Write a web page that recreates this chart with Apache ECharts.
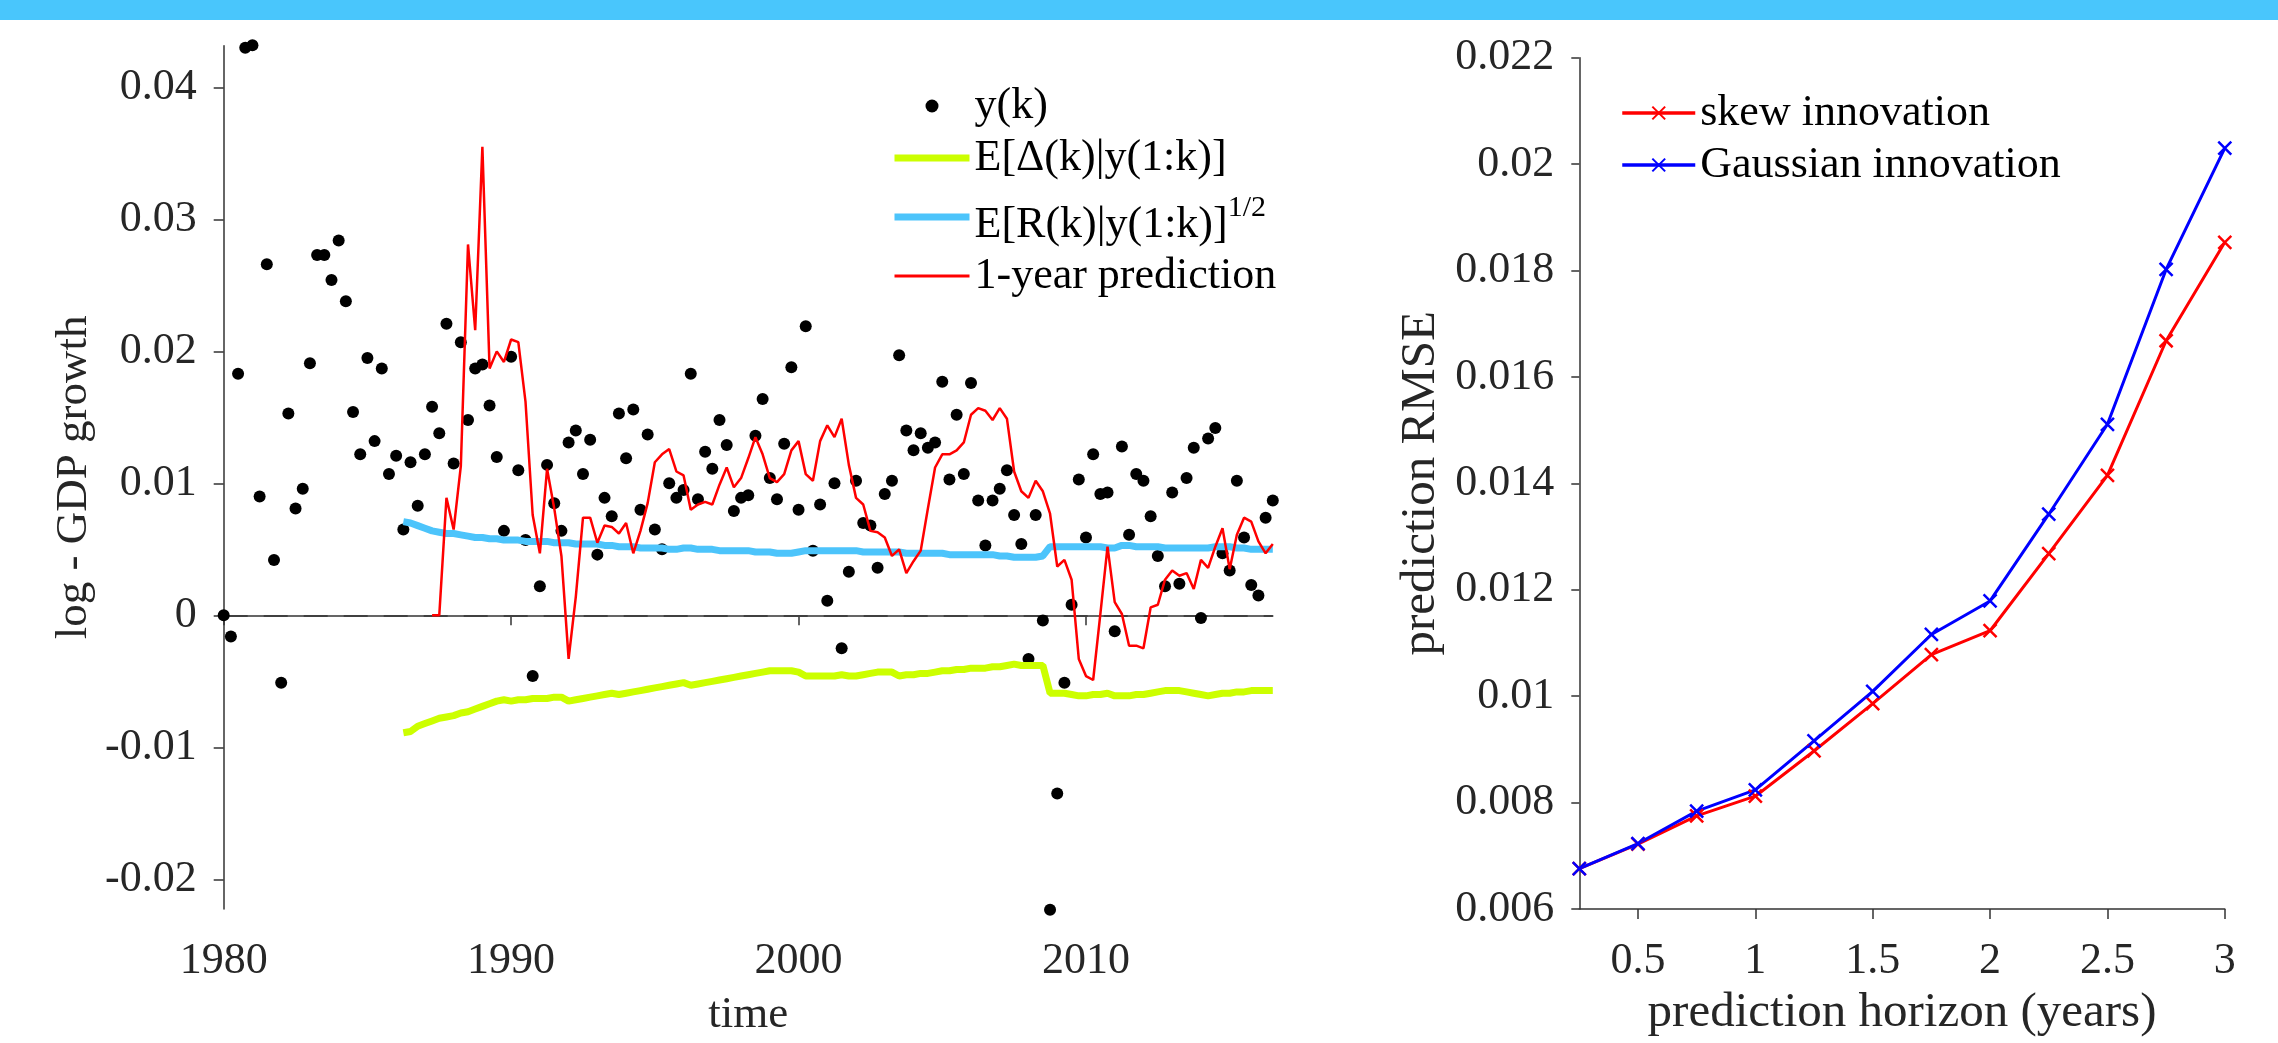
<!DOCTYPE html>
<html>
<head>
	<meta charset="utf-8">
	<title>GDP growth prediction</title>
	<script src="https://cdn.jsdelivr.net/npm/echarts@6/dist/echarts.min.js"></script>
	<style>
		html, body {
			margin: 0;
			padding: 0;
			background: #fff;
		}

		#chart {
			width: 2278px;
			height: 1043px;
		}
	</style>
</head>
<body>
	<div id="chart"></div>
<script type="text/javascript">
	// quarterly data, first sample at 1980.0
	var startYear = 1980;
	var stepYear = 0.25;

	// y(k): log GDP growth per quarter
	var yk = [
		0, -0.0016, 0.0183, 0.0430, 0.0432, 0.0090, 0.0266, 0.0042, -0.0051, 0.0153,
		0.0081, 0.0096, 0.0191, 0.0273, 0.0273, 0.0254, 0.0284, 0.0238, 0.0154, 0.0122,
		0.0195, 0.0132, 0.0187, 0.0107, 0.0121, 0.0065, 0.0116, 0.0083, 0.0122, 0.0158,
		0.0138, 0.0221, 0.0115, 0.0207, 0.0148, 0.0187, 0.0190, 0.0159, 0.0120, 0.0064,
		0.0196, 0.0110, 0.0057, -0.0046, 0.0022, 0.0114, 0.0085, 0.0064, 0.0131, 0.0140,
		0.0107, 0.0133, 0.0046, 0.0089, 0.0075, 0.0153, 0.0119, 0.0156, 0.0080, 0.0137,
		0.0065, 0.0050, 0.0100, 0.0089, 0.0095, 0.0183, 0.0088, 0.0124, 0.0111, 0.0148,
		0.0129, 0.0079, 0.0089, 0.0091, 0.0136, 0.0164, 0.0104, 0.0088, 0.0130, 0.0188,
		0.0080, 0.0219, 0.0049, 0.0084, 0.0011, 0.0100, -0.0025, 0.0033, 0.0102, 0.0070,
		0.0068, 0.0036, 0.0092, 0.0102, 0.0197, 0.0140, 0.0125, 0.0138, 0.0127, 0.0131,
		0.0177, 0.0103, 0.0152, 0.0107, 0.0176, 0.0087, 0.0053, 0.0087, 0.0096, 0.0110,
		0.0076, 0.0054, -0.0033, 0.0076, -0.0004, -0.0223, -0.0135, -0.0051, 0.0008, 0.0103,
		0.0059, 0.0122, 0.0092, 0.0093, -0.0012, 0.0128, 0.0061, 0.0107, 0.0102, 0.0075,
		0.0045, 0.0022, 0.0093, 0.0024, 0.0104, 0.0127, -0.0002, 0.0134, 0.0142, 0.0047,
		0.0034, 0.0102, 0.0059, 0.0023, 0.0015, 0.0074, 0.0087
	];

	// filter outputs start at sample 25 (1986.25)
	var filterStart = 25;
	var deltaMean = [
		-0.0089, -0.0088, -0.0084, -0.0082, -0.0080, -0.0078, -0.0077, -0.0076, -0.0074, -0.0073,
		-0.0071, -0.0069, -0.0067, -0.0065, -0.0064, -0.0065, -0.0064, -0.0064, -0.0063, -0.0063,
		-0.0063, -0.0062, -0.0062, -0.0065, -0.0064, -0.0063, -0.0062, -0.0061, -0.0060, -0.0059,
		-0.0060, -0.0059, -0.0058, -0.0057, -0.0056, -0.0055, -0.0054, -0.0053, -0.0052, -0.0051,
		-0.0053, -0.0052, -0.0051, -0.0050, -0.0049, -0.0048, -0.0047, -0.0046, -0.0045, -0.0044,
		-0.0043, -0.0042, -0.0042, -0.0042, -0.0042, -0.0043, -0.0046, -0.0046, -0.0046, -0.0046,
		-0.0046, -0.0045, -0.0046, -0.0046, -0.0045, -0.0044, -0.0043, -0.0043, -0.0043, -0.0046,
		-0.0045, -0.0045, -0.0044, -0.0044, -0.0043, -0.0042, -0.0042, -0.0041, -0.0041, -0.0040,
		-0.0040, -0.0040, -0.0039, -0.0039, -0.0038, -0.0037, -0.0038, -0.0038, -0.0038, -0.0038,
		-0.0059, -0.0059, -0.0059, -0.0060, -0.0061, -0.0061, -0.0060, -0.0060, -0.0059, -0.0061,
		-0.0061, -0.0061, -0.0060, -0.0060, -0.0059, -0.0058, -0.0057, -0.0057, -0.0057, -0.0058,
		-0.0059, -0.0060, -0.0061, -0.0060, -0.0059, -0.0059, -0.0058, -0.0058, -0.0057, -0.0057,
		-0.0057, -0.0057
	];
	var rootR = [
		0.0071, 0.0070, 0.0068, 0.0066, 0.0064, 0.0063, 0.0062, 0.0062, 0.0061, 0.0060,
		0.0059, 0.0059, 0.0058, 0.0058, 0.0057, 0.0057, 0.0057, 0.0056, 0.0056, 0.0056,
		0.0056, 0.0055, 0.0055, 0.0055, 0.0054, 0.0054, 0.0054, 0.0054, 0.0053, 0.0053,
		0.0052, 0.0052, 0.0052, 0.0051, 0.0051, 0.0051, 0.0051, 0.0050, 0.0050, 0.0051,
		0.0051, 0.0050, 0.0050, 0.0050, 0.0049, 0.0049, 0.0049, 0.0049, 0.0049, 0.0048,
		0.0048, 0.0048, 0.0047, 0.0047, 0.0047, 0.0048, 0.0049, 0.0049, 0.0049, 0.0049,
		0.0049, 0.0049, 0.0049, 0.0049, 0.0048, 0.0048, 0.0048, 0.0048, 0.0048, 0.0048,
		0.0047, 0.0047, 0.0047, 0.0047, 0.0047, 0.0047, 0.0046, 0.0046, 0.0046, 0.0046,
		0.0046, 0.0046, 0.0046, 0.0045, 0.0045, 0.0044, 0.0044, 0.0044, 0.0044, 0.0045,
		0.0052, 0.0052, 0.0052, 0.0052, 0.0052, 0.0052, 0.0052, 0.0052, 0.0051, 0.0051,
		0.0053, 0.0053, 0.0052, 0.0052, 0.0052, 0.0052, 0.0051, 0.0051, 0.0051, 0.0051,
		0.0051, 0.0051, 0.0051, 0.0052, 0.0052, 0.0052, 0.0051, 0.0051, 0.0050, 0.0050,
		0.0050, 0.0050
	];

	// 1-year prediction starts at sample 29 (1987.25)
	var predStart = 29;
	var pred1y = [
		0, 0, 0.0089, 0.0065, 0.0113, 0.0281, 0.0216, 0.0355, 0.0187, 0.0200,
		0.0192, 0.0209, 0.0207, 0.0162, 0.0076, 0.0047, 0.0111, 0.0081, 0.0045, -0.0033,
		0.0014, 0.0074, 0.0074, 0.0055, 0.0068, 0.0067, 0.0062, 0.0070, 0.0047, 0.0064,
		0.0085, 0.0116, 0.0122, 0.0126, 0.0109, 0.0106, 0.0080, 0.0084, 0.0086, 0.0084,
		0.0099, 0.0112, 0.0097, 0.0104, 0.0119, 0.0135, 0.0122, 0.0104, 0.0101, 0.0107,
		0.0125, 0.0132, 0.0107, 0.0102, 0.0132, 0.0144, 0.0135, 0.0149, 0.0114, 0.0089,
		0.0084, 0.0064, 0.0063, 0.0059, 0.0045, 0.0050, 0.0032, 0.0041, 0.0049, 0.0081,
		0.0112, 0.0122, 0.0122, 0.0125, 0.0131, 0.0152, 0.0157, 0.0155, 0.0148, 0.0157,
		0.0149, 0.0109, 0.0094, 0.0089, 0.0102, 0.0094, 0.0077, 0.0037, 0.0042, 0.0027,
		-0.0033, -0.0046, -0.0049, 0.0001, 0.0052, 0.0010, 0.0001, -0.0023, -0.0023, -0.0025,
		0.0006, 0.0008, 0.0027, 0.0034, 0.0030, 0.0032, 0.0020, 0.0042, 0.0036, 0.0052,
		0.0066, 0.0035, 0.0061, 0.0074, 0.0071, 0.0056, 0.0047, 0.0054
	];

	// right panel: RMSE vs horizon
	var horizons = [0.25, 0.5, 0.75, 1, 1.25, 1.5, 1.75, 2, 2.25, 2.5, 2.75, 3];
	var rmseSkew = [0.00676, 0.00722, 0.00775, 0.00812, 0.00897, 0.00986, 0.01078, 0.01123, 0.01268, 0.01415, 0.01668, 0.01853];
	var rmseGauss = [0.00676, 0.00723, 0.00784, 0.00824, 0.00916, 0.01009, 0.01116, 0.01179, 0.01342, 0.01511, 0.01802, 0.0203];

	// tick labels
	var yearTicks = [1980, 1990, 2000, 2010];
	var growthTicks = [-0.02, -0.01, 0, 0.01, 0.02, 0.03, 0.04];
	var horizonTicks = [0.5, 1, 1.5, 2, 2.5, 3];
	var rmseTicks = [0.006, 0.008, 0.01, 0.012, 0.014, 0.016, 0.018, 0.02, 0.022];

	var FONT = '"Liberation Serif", "Times New Roman", serif';
	var AXIS_COLOR = '#333333';
	var TEXT_COLOR = '#262626';
	var X_SYMBOL = 'path://M0,0L10,10M10,0L0,10';

	function toPairs(values, offset) {
		var out = [];
		for (var i = 0; i < values.length; i++) {
			out.push([startYear + (offset + i) * stepYear, values[i]]);
		}
		return out;
	}

	function zip(xs, ys) {
		var out = [];
		for (var i = 0; i < xs.length; i++) {
			out.push([xs[i], ys[i]]);
		}
		return out;
	}

	function num(v) {
		return String(+v.toFixed(4));
	}

	function valueAxis(grid, min, max, ticks, tickLen, margin, name, nameSize, nameGap) {
		return {
			type: 'value',
			gridIndex: grid,
			min: min,
			max: max,
			name: name,
			nameLocation: 'middle',
			nameGap: nameGap,
			nameTextStyle: { fontFamily: FONT, fontSize: nameSize, color: TEXT_COLOR },
			axisLine: { show: true, lineStyle: { color: AXIS_COLOR, width: 1.5 } },
			axisTick: { show: true, length: tickLen, customValues: ticks, lineStyle: { color: AXIS_COLOR, width: 1.5 } },
			axisLabel: { customValues: ticks, margin: margin, fontFamily: FONT, fontSize: 44, color: TEXT_COLOR, formatter: num },
			splitLine: { show: false }
		};
	}

	// legend entry for a plain line: hide the dot ECharts puts on line icons
	function lineOnly(name, width) {
		return { name: name, itemStyle: { opacity: 0 }, lineStyle: { width: width } };
	}

	var chart = echarts.init(document.getElementById('chart'), null, { renderer: 'canvas' });

	var option = {
		animation: false,
		backgroundColor: '#ffffff',
		graphic: [{
			type: 'rect',
			left: 0,
			top: 0,
			shape: { width: 2278, height: 20 },
			style: { fill: '#49c6fc' }
		}],
		grid: [
			{ left: 223.7, top: 45.7, width: 1049.1, height: 873.3 },
			{ left: 1579.3, top: 57.7, width: 645.5, height: 860.3 }
		],
		xAxis: [
			valueAxis(0, 1980, 2016.5, yearTicks, 10, 30, 'time', 45, 84),
			valueAxis(1, 0.25, 3, horizonTicks, 10, 30, 'prediction horizon (years)', 49, 80)
		],
		yAxis: [
			valueAxis(0, -0.02225, 0.04316, growthTicks, 10, 27, 'log - GDP growth', 45, 127),
			valueAxis(1, 0.006, 0.022, rmseTicks, 8, 25, 'prediction RMSE', 49, 134)
		],
		legend: [{
			orient: 'vertical',
			left: 891,
			top: 83,
			padding: 0,
			itemWidth: 75,
			itemHeight: 13,
			itemGap: 6,
			data: [
				'y(k)',
				lineOnly('E[Δ(k)|y(1:k)]', 7),
				lineOnly('E[R(k)|y(1:k)]^1/2', 7),
				lineOnly('1-year prediction', 3)
			],
			formatter: function(name) {
				if (name.indexOf('^') > 0) {
					var parts = name.split('^');
					return '{n|' + parts[0] + '}{s|' + parts[1] + '}';
				}
				return name;
			},
			textStyle: {
				fontFamily: FONT,
				fontSize: 44,
				lineHeight: 46,
				color: '#000',
				rich: {
					n: { fontFamily: FONT, fontSize: 44, lineHeight: 60, color: '#000', verticalAlign: 'bottom' },
					s: { fontFamily: FONT, fontSize: 30, lineHeight: 30, color: '#000', verticalAlign: 'top', padding: [6, 0, 0, 0] }
				}
			}
		}, {
			orient: 'vertical',
			left: 1620.5,
			top: 90,
			padding: 0,
			itemWidth: 73,
			itemHeight: 16,
			itemGap: 6,
			lineStyle: { width: 3.5 },
			data: ['skew innovation', 'Gaussian innovation'],
			textStyle: { fontFamily: FONT, fontSize: 44, lineHeight: 46, color: '#000' }
		}],
		series: [{
			name: 'y(k)',
			type: 'scatter',
			xAxisIndex: 0,
			yAxisIndex: 0,
			clip: false,
			symbol: 'circle',
			symbolSize: 12,
			itemStyle: { color: '#000000', opacity: 1 },
			data: toPairs(yk, 0),
			markLine: {
				silent: true,
				z: 1,
				symbol: ['none', 'none'],
				label: { show: false },
				lineStyle: { color: '#404040', width: 2, type: [24, 16] },
				data: [{ yAxis: 0 }]
			}
		}, {
			name: 'E[Δ(k)|y(1:k)]',
			type: 'line',
			xAxisIndex: 0,
			yAxisIndex: 0,
			symbol: 'none',
			color: '#ccff00',
			lineStyle: { color: '#ccff00', width: 7 },
			data: toPairs(deltaMean, filterStart)
		}, {
			name: 'E[R(k)|y(1:k)]^1/2',
			type: 'line',
			xAxisIndex: 0,
			yAxisIndex: 0,
			symbol: 'none',
			color: '#4cc4fb',
			lineStyle: { color: '#4cc4fb', width: 7 },
			data: toPairs(rootR, filterStart)
		}, {
			name: '1-year prediction',
			type: 'line',
			xAxisIndex: 0,
			yAxisIndex: 0,
			symbol: 'none',
			color: '#ff0000',
			lineStyle: { color: '#ff0000', width: 2.5 },
			data: toPairs(pred1y, predStart)
		}, {
			name: 'skew innovation',
			type: 'line',
			xAxisIndex: 1,
			yAxisIndex: 1,
			symbol: X_SYMBOL,
			symbolSize: 13,
			color: '#ff0000',
			lineStyle: { color: '#ff0000', width: 3 },
			itemStyle: { color: '#ff0000', borderColor: '#ff0000', borderWidth: 2.5 },
			data: zip(horizons, rmseSkew)
		}, {
			name: 'Gaussian innovation',
			type: 'line',
			xAxisIndex: 1,
			yAxisIndex: 1,
			symbol: X_SYMBOL,
			symbolSize: 13,
			color: '#0000ff',
			lineStyle: { color: '#0000ff', width: 3 },
			itemStyle: { color: '#0000ff', borderColor: '#0000ff', borderWidth: 2.5 },
			data: zip(horizons, rmseGauss)
		}]
	};

	chart.setOption(option);
</script>
</body>
</html>
